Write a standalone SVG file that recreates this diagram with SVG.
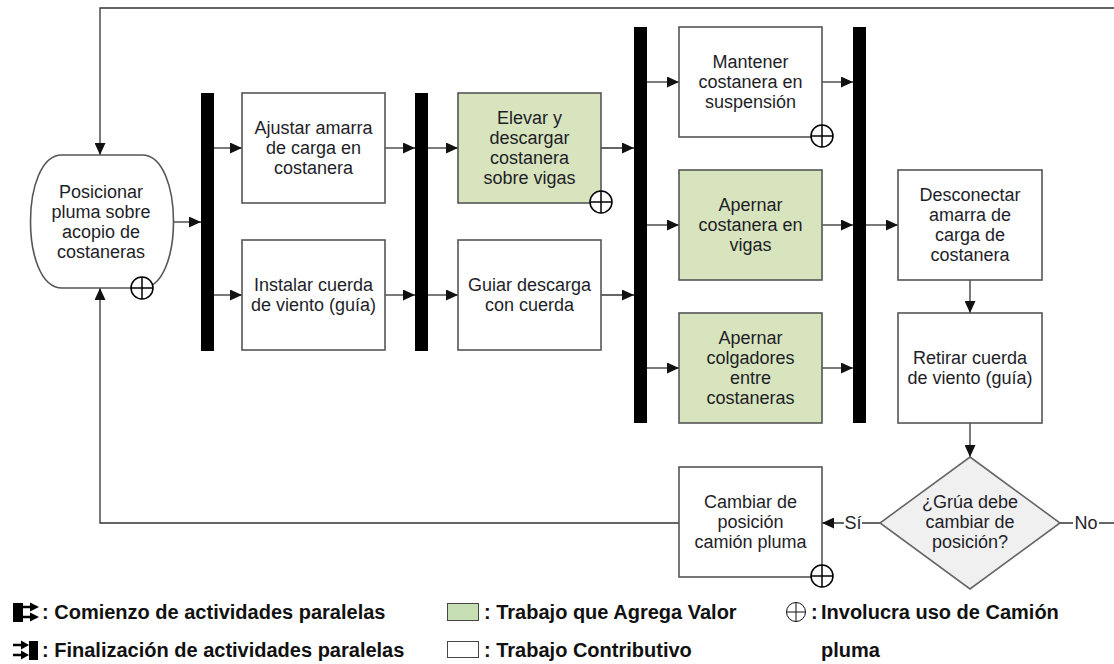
<svg xmlns="http://www.w3.org/2000/svg" width="1114" height="664" viewBox="0 0 1114 664">
<defs>
<marker id="arr" markerUnits="userSpaceOnUse" markerWidth="13" markerHeight="11" refX="12" refY="5.5" orient="auto">
<path d="M0,0 L12,5.5 L0,11 z" fill="#111"/>
</marker>
<style>
.box{fill:#fff;stroke:#555;stroke-width:1.6}
.va{fill:#d7e4bd;stroke:#555;stroke-width:1.6}
.bar{fill:#000}
.con{fill:none;stroke:#333;stroke-width:1.3}
.t{font-family:"Liberation Sans",Arial,sans-serif;font-size:18px;fill:#1e1e28;text-anchor:middle}
.lg{font-family:"Liberation Sans",Arial,sans-serif;font-size:20px;font-weight:bold;fill:#111}
.cr{fill:#fff;stroke:#000;stroke-width:1.5}
.crl{stroke:#000;stroke-width:1.5}
</style>
<g id="crane">
<circle class="cr" cx="0" cy="0" r="11"/>
<line class="crl" x1="-11" y1="0" x2="11" y2="0"/>
<line class="crl" x1="0" y1="-11" x2="0" y2="11"/>
</g>
</defs>
<rect width="1114" height="664" fill="#fff"/>

<g id="connectors">
<path class="con" d="M1114,8 H100 V155" marker-end="url(#arr)"/>
<path class="con" d="M173,222 H201" marker-end="url(#arr)"/>
<path class="con" d="M214,148 H242" marker-end="url(#arr)"/>
<path class="con" d="M214,295 H242" marker-end="url(#arr)"/>
<path class="con" d="M385,148 H415" marker-end="url(#arr)"/>
<path class="con" d="M385,295 H415" marker-end="url(#arr)"/>
<path class="con" d="M428,148 H458" marker-end="url(#arr)"/>
<path class="con" d="M428,295 H458" marker-end="url(#arr)"/>
<path class="con" d="M601,148 H634" marker-end="url(#arr)"/>
<path class="con" d="M601,295 H634" marker-end="url(#arr)"/>
<path class="con" d="M647,82 H679" marker-end="url(#arr)"/>
<path class="con" d="M647,225 H679" marker-end="url(#arr)"/>
<path class="con" d="M647,368 H679" marker-end="url(#arr)"/>
<path class="con" d="M822,82 H853" marker-end="url(#arr)"/>
<path class="con" d="M822,225 H853" marker-end="url(#arr)"/>
<path class="con" d="M822,368 H853" marker-end="url(#arr)"/>
<path class="con" d="M866,225 H898" marker-end="url(#arr)"/>
<path class="con" d="M970,280 V313" marker-end="url(#arr)"/>
<path class="con" d="M970,423 V457" marker-end="url(#arr)"/>
<path class="con" d="M880,523 H822" marker-end="url(#arr)"/>
<path class="con" d="M1060,523 H1114"/>
<path class="con" d="M679,523 H100 V288" marker-end="url(#arr)"/>
<rect x="844" y="512" width="18" height="22" fill="#fff"/>
<text class="t" x="853" y="529">Sí</text>
<rect x="1073" y="512" width="26" height="22" fill="#fff"/>
<text class="t" x="1086" y="529">No</text>
</g>

<g id="bar1"><rect class="bar" x="201" y="93" width="13" height="258"/></g>
<g id="bar2"><rect class="bar" x="415" y="93" width="13" height="258"/></g>
<g id="bar3"><rect class="bar" x="634" y="27" width="13" height="396"/></g>
<g id="bar4"><rect class="bar" x="853" y="27" width="13" height="396"/></g>

<g id="n_start">
<path class="box" d="M62,155 L142,155 C184,155 184,288 142,288 L62,288 C20,288 20,155 62,155 Z"/>
<text class="t" x="101" y="197.5">Posicionar</text>
<text class="t" x="101" y="217.5">pluma sobre</text>
<text class="t" x="101" y="237.5">acopio de</text>
<text class="t" x="101" y="257.5">costaneras</text>
<use href="#crane" x="142" y="288"/>
</g>

<g id="n_ajustar">
<rect class="box" x="242" y="93" width="143" height="110"/>
<text class="t" x="313.5" y="134">Ajustar amarra</text>
<text class="t" x="313.5" y="154">de carga en</text>
<text class="t" x="313.5" y="174">costanera</text>
</g>

<g id="n_instalar">
<rect class="box" x="242" y="240" width="143" height="110"/>
<text class="t" x="313.5" y="291">Instalar cuerda</text>
<text class="t" x="313.5" y="311">de viento (guía)</text>
</g>

<g id="n_elevar">
<rect class="va" x="458" y="93" width="143" height="110"/>
<text class="t" x="529.5" y="124">Elevar y</text>
<text class="t" x="529.5" y="144">descargar</text>
<text class="t" x="529.5" y="164">costanera</text>
<text class="t" x="529.5" y="184">sobre vigas</text>
<use href="#crane" x="601" y="202"/>
</g>

<g id="n_guiar">
<rect class="box" x="458" y="240" width="143" height="110"/>
<text class="t" x="529.5" y="291">Guiar descarga</text>
<text class="t" x="529.5" y="311">con cuerda</text>
</g>

<g id="n_mantener">
<rect class="box" x="679" y="27" width="143" height="110"/>
<text class="t" x="750.5" y="68">Mantener</text>
<text class="t" x="750.5" y="88">costanera en</text>
<text class="t" x="750.5" y="108">suspensión</text>
<use href="#crane" x="822" y="136"/>
</g>

<g id="n_apernar1">
<rect class="va" x="679" y="170" width="143" height="110"/>
<text class="t" x="750.5" y="211">Apernar</text>
<text class="t" x="750.5" y="231">costanera en</text>
<text class="t" x="750.5" y="251">vigas</text>
</g>

<g id="n_apernar2">
<rect class="va" x="679" y="313" width="143" height="110"/>
<text class="t" x="750.5" y="344">Apernar</text>
<text class="t" x="750.5" y="364">colgadores</text>
<text class="t" x="750.5" y="384">entre</text>
<text class="t" x="750.5" y="404">costaneras</text>
</g>

<g id="n_desconectar">
<rect class="box" x="898" y="170" width="144" height="110"/>
<text class="t" x="970" y="201">Desconectar</text>
<text class="t" x="970" y="221">amarra de</text>
<text class="t" x="970" y="241">carga de</text>
<text class="t" x="970" y="261">costanera</text>
</g>

<g id="n_retirar">
<rect class="box" x="898" y="313" width="144" height="110"/>
<text class="t" x="970" y="364">Retirar cuerda</text>
<text class="t" x="970" y="384">de viento (guía)</text>
</g>

<g id="n_decision">
<polygon points="970,457 1060,523 970,589 880,523" fill="#f0f0f0" stroke="#666" stroke-width="1.6"/>
<text class="t" x="970" y="508">¿Grúa debe</text>
<text class="t" x="970" y="528">cambiar de</text>
<text class="t" x="970" y="548">posición?</text>
</g>

<g id="n_cambiar">
<rect class="box" x="679" y="467" width="143" height="110"/>
<text class="t" x="750.5" y="508">Cambiar de</text>
<text class="t" x="750.5" y="528">posición</text>
<text class="t" x="750.5" y="548">camión pluma</text>
<use href="#crane" x="822" y="576"/>
</g>

<g id="legend">
<rect x="13" y="603" width="10" height="19" fill="#000"/>
<path d="M23,607 H31" stroke="#000" stroke-width="2.5"/>
<polygon points="30,602.5 39,607 30,611.5" fill="#000"/>
<path d="M23,617 H31" stroke="#000" stroke-width="2.5"/>
<polygon points="30,612.5 39,617 30,621.5" fill="#000"/>
<text class="lg" x="42" y="619">: Comienzo de actividades paralelas</text>

<path d="M13,645 H22" stroke="#000" stroke-width="2.5"/>
<polygon points="21,640.5 29,645 21,649.5" fill="#000"/>
<path d="M13,655 H22" stroke="#000" stroke-width="2.5"/>
<polygon points="21,650.5 29,655 21,659.5" fill="#000"/>
<rect x="29" y="641" width="9" height="19" fill="#000"/>
<text class="lg" x="42" y="657">: Finalización de actividades paralelas</text>

<rect x="447.5" y="603.5" width="31" height="17" fill="#c6e0b4" stroke="#444" stroke-width="1"/>
<text class="lg" x="484" y="619">: Trabajo que Agrega Valor</text>
<rect x="447.5" y="641.5" width="31" height="16" fill="#fff" stroke="#444" stroke-width="1"/>
<text class="lg" x="484" y="657">: Trabajo Contributivo</text>

<circle cx="796" cy="612" r="9.5" fill="none" stroke="#111" stroke-width="1"/>
<line x1="786.5" y1="612" x2="805.5" y2="612" stroke="#111" stroke-width="1"/>
<line x1="796" y1="602.5" x2="796" y2="621.5" stroke="#111" stroke-width="1"/>
<text class="lg" x="811" y="619">:</text>
<text class="lg" x="821" y="619">Involucra uso de Camión</text>
<text class="lg" x="821" y="657">pluma</text>
</g>
</svg>
